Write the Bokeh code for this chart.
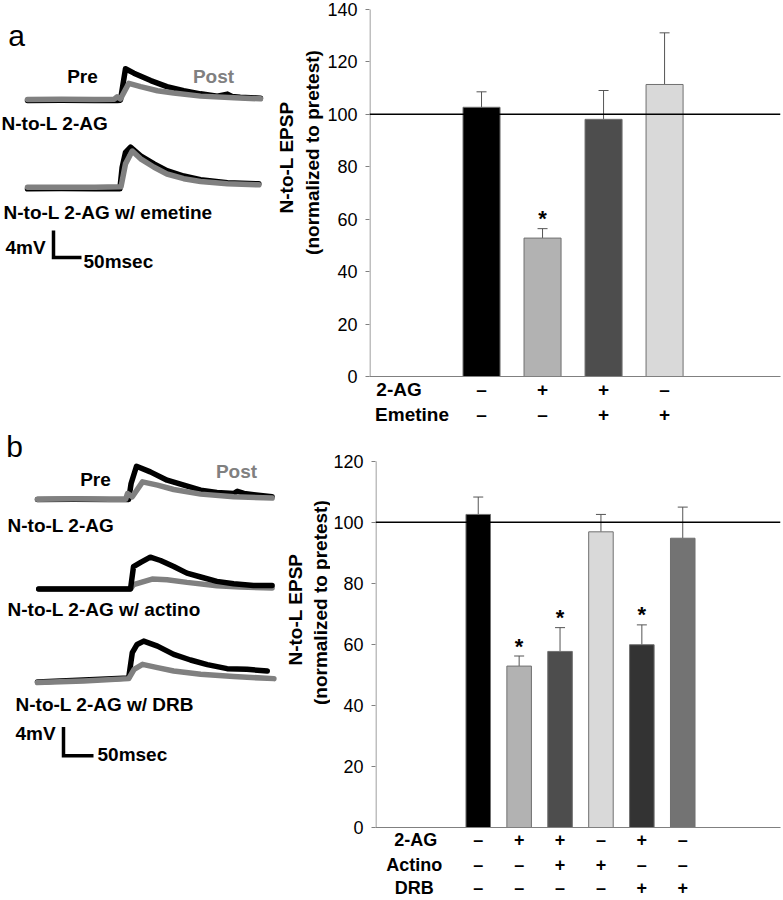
import numpy as np
from bokeh.plotting import figure
from bokeh.layouts import row, column
from bokeh.models import (Range1d, Span, Whisker, ColumnDataSource, FixedTicker,
                          LinearAxis, TeeHead)
from bokeh.core.properties import value
from bokeh.embed import file_html
from bokeh.resources import INLINE

FONT = "Liberation Sans"
BLACK = "#000000"
GRAY = "#808080"

# ------------------------------------------------------------------ data: panel a bars
a_mean = [102.7, 52.8, 98.1, 111.4]
a_sem = [5.9, 3.6, 11.0, 19.7]
a_sig = [False, True, False, False]
a_colors = ["#000000", "#b2b2b2", "#4d4d4d", "#d9d9d9"]
a_rows = ["2-AG", "Emetine"]
a_table = [["–", "+", "+", "–"],
           ["–", "–", "+", "+"]]
a_yticks = [0, 20, 40, 60, 80, 100, 120, 140]

# ------------------------------------------------------------------ data: panel b bars
b_mean = [102.6, 52.9, 57.7, 96.9, 59.9, 94.8]
b_sem = [5.7, 3.3, 7.8, 5.7, 6.5, 10.2]
b_sig = [False, True, True, False, True, False]
b_colors = ["#000000", "#b2b2b2", "#4d4d4d", "#d9d9d9", "#333333", "#737373"]
b_rows = ["2-AG", "Actino", "DRB"]
b_table = [["–", "+", "+", "–", "+", "–"],
           ["–", "–", "+", "+", "–", "–"],
           ["–", "–", "–", "–", "+", "+"]]
b_yticks = [0, 20, 40, 60, 80, 100, 120]

ylab1 = "N-to-L EPSP"
ylab2 = "(normalized to pretest)"

# ------------------------------------------------------------------ data: traces (ms, mV)
a1_pre_t = [0, 60, 120, 160, 166, 175, 190, 220, 249, 279, 309, 339, 357, 365, 380, 416]
a1_pre_v = [-0.15, -0.1, -0.15, -0.15, -0.1, 4.55, 3.9, 2.8, 1.9, 1.3, 0.84, 0.5, 0.8, 0.45, 0.35, 0.2]
a1_post_t = [0, 60, 120, 155, 160, 166, 181, 202, 232, 261, 309, 369, 416]
a1_post_v = [0.0, 0.05, 0.0, 0.05, 0.4, 0.1, 2.4, 1.9, 1.3, 0.95, 0.5, 0.25, 0.1]

a2_pre_t = [0, 60, 120, 165, 169, 175, 184, 202, 226, 249, 279, 309, 357, 413]
a2_pre_v = [-0.2, -0.15, -0.2, -0.2, 3.0, 5.2, 5.97, 4.7, 3.5, 2.5, 1.7, 1.14, 0.7, 0.55]
a2_post_t = [0, 60, 120, 167, 175, 187, 202, 226, 249, 279, 309, 357, 413]
a2_post_v = [0.05, 0.05, 0.05, 0.1, 3.5, 5.4, 4.25, 3.0, 2.0, 1.3, 0.9, 0.55, 0.4]

b1_pre_t = [0, 60, 120, 152, 156, 165, 188, 216, 244, 272, 299, 327, 333, 344, 391]
b1_pre_v = [-0.14, -0.1, -0.14, -0.14, 2.07, 4.46, 3.68, 2.53, 1.84, 1.15, 0.83, 0.69, 1.0, 0.69, 0.23]
b1_post_t = [0, 60, 120, 147, 150, 158, 175, 200, 227, 272, 327, 391]
b1_post_v = [-0.1, -0.05, -0.1, -0.1, 0.69, 0.23, 2.3, 1.84, 1.24, 0.6, 0.23, 0.05]

b2_pre_t = [2, 60, 120, 155, 160, 172, 188, 205, 227, 249, 272, 299, 327, 360, 391]
b2_pre_v = [0.0, 0.0, 0.0, 0.0, 3.1, 3.68, 4.41, 3.95, 3.12, 2.2, 1.66, 1.06, 0.73, 0.5, 0.5]
b2_post_t = [2, 60, 120, 155, 160, 191, 216, 249, 299, 338, 391]
b2_post_v = [0.0, 0.0, 0.0, 0.0, 0.6, 1.38, 1.29, 0.92, 0.46, 0.28, 0.14]

b3_pre_t = [0, 77, 152, 158, 166, 177, 200, 227, 255, 283, 316, 349, 383]
b3_pre_v = [-0.14, 0.14, 0.41, 3.91, 5.06, 5.52, 4.83, 3.68, 2.9, 2.26, 1.7, 1.61, 1.38]
b3_post_t = [0, 77, 152, 161, 175, 200, 227, 272, 327, 394]
b3_post_v = [-0.23, 0.0, 0.32, 1.61, 2.3, 1.84, 1.38, 0.92, 0.6, 0.32]

scale_mv = 4
scale_ms = 50


# ------------------------------------------------------------------ helpers
def base_fig(width, height, xr, yr, **kw):
    p = figure(width=width, height=height, x_range=Range1d(*xr), y_range=Range1d(*yr),
               output_backend="svg", toolbar_location=None, **kw)
    p.grid.visible = False
    p.outline_line_color = None
    p.background_fill_color = "white"
    p.border_fill_color = "white"
    return p


def bar_chart(width, height, means, sems, sig, colors, rows, table, hdr_pos, xr, yend,
              ymax_tick, yticks, bl, bb, row_font, standoffs, bar_w, px_per_unit):
    n = len(means)
    xs = list(range(1, n + 1))
    p = base_fig(width, height, xr, (0, yend), min_border_left=bl, min_border_top=0,
                 min_border_bottom=bb, min_border_right=3)
    src = ColumnDataSource(dict(x=xs, top=means, upper=[m + s for m, s in zip(means, sems)],
                                color=colors))
    p.vbar(x="x", top="top", width=bar_w, fill_color="color", line_color="#707070",
           line_width=1, source=src)
    p.add_layout(Whisker(base="x", upper="upper", lower="top", source=src,
                         line_color="#555555", line_width=1,
                         upper_head=TeeHead(size=10, line_color="#555555", line_width=1),
                         lower_head=None))
    p.add_layout(Span(location=100, dimension="width", line_color="black", line_width=1.5))
    sx = [x for x, s in zip(xs, sig) if s]
    sy = [m + e for m, e, s in zip(means, sems, sig) if s]
    p.text(x=sx, y=sy, text=["*"] * len(sx), text_font=value(FONT), text_font_style="bold",
           text_font_size="22px", text_align="center", text_baseline="alphabetic",
           y_offset=-10, text_color="black")
    # y axis line only up to the top tick
    x_edge = xr[0] + 0.5 / px_per_unit
    p.segment(x0=[x_edge], y0=[0], x1=[x_edge], y1=[ymax_tick], line_color="#808080",
              line_width=1)
    ya = p.yaxis[0]
    ya.ticker = FixedTicker(ticks=yticks)
    ya.major_label_text_font = FONT
    ya.major_label_text_font_size = "18px"
    ya.major_label_text_color = "black"
    ya.major_label_standoff = 8
    ya.major_tick_out = 4
    ya.major_tick_in = 0
    ya.minor_tick_line_color = None
    ya.axis_line_color = None
    ya.major_tick_line_color = "#808080"
    # x axes used as the treatment table rows
    for i, (rname, vals) in enumerate(zip(rows, table)):
        if i == 0:
            ax = p.xaxis[0]
            ax.axis_line_color = "#808080"
        else:
            ax = LinearAxis()
            p.add_layout(ax, "below")
            ax.axis_line_color = None
        ticks = [hdr_pos[i]] + xs
        ax.ticker = FixedTicker(ticks=ticks)
        ov = {hdr_pos[i]: rname}
        for x, v in zip(xs, vals):
            ov[x] = v
        ax.major_label_overrides = ov
        ax.major_tick_line_color = None
        ax.major_tick_out = 0
        ax.major_tick_in = 0
        ax.minor_tick_line_color = None
        ax.major_label_standoff = standoffs[i]
        ax.major_label_text_font = FONT
        ax.major_label_text_font_style = "bold"
        ax.major_label_text_font_size = row_font
        ax.major_label_text_color = "black"
    return p


def trace_panel(width, height, X, Y, px_left, px_right, py_top, py_bot, bb):
    p = base_fig(width, height, (X(px_left), X(px_right)), (Y(py_bot), Y(py_top)),
                 min_border_left=0, min_border_right=0, min_border_top=0,
                 min_border_bottom=bb, x_axis_location=None, y_axis_location=None)
    return p


def txt(p, x, y, s, size="19px", style="bold", color="black", align="left", angle=0.0):
    p.text(x=[x], y=[y], text=[s], text_font=value(FONT), text_font_style=style,
           text_font_size=size, text_color=color, text_align=align,
           text_baseline="middle", angle=angle)


def draw_trace(p, t, v, off, color):
    p.line(list(t), [vi + off for vi in v], line_width=5.5, line_color=color,
           line_join="round", line_cap="round")


def scale_bar(p, t0, y0):
    p.line([t0, t0, t0 + scale_ms], [y0 + scale_mv, y0, y0], line_width=3.5,
           line_color="black", line_join="miter")


# ------------------------------------------------------------------ section a (page y 0..428)
A_H = 428
A_LW = 324
A_FRAME_BOT = 376
XA = lambda px: (px - 27) / 0.56
YA = lambda py: (99 - py) / 6.75
la = trace_panel(A_LW, A_H, XA, YA, 0, A_LW, 0, A_FRAME_BOT, A_H - A_FRAME_BOT)
a2_off = YA(187)
draw_trace(la, a1_pre_t, a1_pre_v, 0, BLACK)
draw_trace(la, a1_post_t, a1_post_v, 0, GRAY)
draw_trace(la, a2_pre_t, a2_pre_v, a2_off, BLACK)
draw_trace(la, a2_post_t, a2_post_v, a2_off, GRAY)
scale_bar(la, XA(53), YA(257))
txt(la, XA(16), YA(35), "a", size="30px", style="normal", align="center")
txt(la, XA(82), YA(76), "Pre", align="center")
txt(la, XA(213), YA(76), "Post", align="center", color=GRAY)
txt(la, XA(1), YA(123), "N-to-L 2-AG")
txt(la, XA(3), YA(212), "N-to-L 2-AG w/ emetine")
txt(la, XA(5), YA(247), "4mV")
txt(la, XA(83), YA(261), "50msec")
txt(la, XA(286), YA(157), ylab1, align="center", angle=np.pi / 2)
txt(la, XA(312), YA(152), ylab2, align="center", angle=np.pi / 2)

a_ppu_y = (A_FRAME_BOT - 9) / 140.0
ba = bar_chart(783 - A_LW, A_H, a_mean, a_sem, a_sig, a_colors, a_rows, a_table,
               hdr_pos=[-0.352, -0.139], xr=(-0.836, 5.90), yend=A_FRAME_BOT / a_ppu_y,
               ymax_tick=140, yticks=a_yticks, bl=369 - A_LW, bb=A_H - A_FRAME_BOT,
               row_font="19px", standoffs=[2, 1], bar_w=0.607, px_per_unit=61.0)

# ------------------------------------------------------------------ section b (page y 428..900)
B_TOP = 428
B_H = 900 - B_TOP
B_LW = 330
B_FRAME_BOT = 829
XB = lambda px: (px - 37) / 0.6
YB = lambda py: (498.3 - py) / 7.25
lb = trace_panel(B_LW, B_H, XB, YB, 0, B_LW, B_TOP, B_FRAME_BOT, 900 - B_FRAME_BOT)
b2_off = YB(589.3)
b3_off = YB(681.7)
draw_trace(lb, b1_pre_t, b1_pre_v, 0, BLACK)
draw_trace(lb, b1_post_t, b1_post_v, 0, GRAY)
draw_trace(lb, b2_post_t, b2_post_v, b2_off, GRAY)
draw_trace(lb, b2_pre_t, b2_pre_v, b2_off, BLACK)
draw_trace(lb, b3_pre_t, b3_pre_v, b3_off, BLACK)
draw_trace(lb, b3_post_t, b3_post_v, b3_off, GRAY)
scale_bar(lb, XB(63), YB(757))
txt(lb, XB(14), YB(446), "b", size="30px", style="normal", align="center")
txt(lb, XB(95), YB(479), "Pre", align="center")
txt(lb, XB(236), YB(471), "Post", align="center", color=GRAY)
txt(lb, XB(7), YB(525), "N-to-L 2-AG")
txt(lb, XB(7), YB(610), "N-to-L 2-AG w/ actino")
txt(lb, XB(15), YB(705), "N-to-L 2-AG w/ DRB")
txt(lb, XB(15), YB(735), "4mV")
txt(lb, XB(97), YB(756), "50msec")
txt(lb, XB(295), YB(610), ylab1, align="center", angle=np.pi / 2)
txt(lb, XB(320), YB(603), ylab2, align="center", angle=np.pi / 2)

b_ppu_y = (B_FRAME_BOT - 461) / 120.0
bb_ = bar_chart(783 - B_LW, B_H, b_mean, b_sem, b_sig, b_colors, b_rows, b_table,
                hdr_pos=[-0.527, -0.564, -0.564], xr=(-1.512, 8.39),
                yend=(B_FRAME_BOT - B_TOP) / b_ppu_y, ymax_tick=120, yticks=b_yticks,
                bl=375 - B_LW, bb=900 - B_FRAME_BOT, row_font="18px", standoffs=[2, 2, 0],
                bar_w=0.6, px_per_unit=40.6)

layout = column(row(la, ba, spacing=0), row(lb, bb_, spacing=0), spacing=0)

open("out.html", "w").write(file_html(layout, INLINE))
